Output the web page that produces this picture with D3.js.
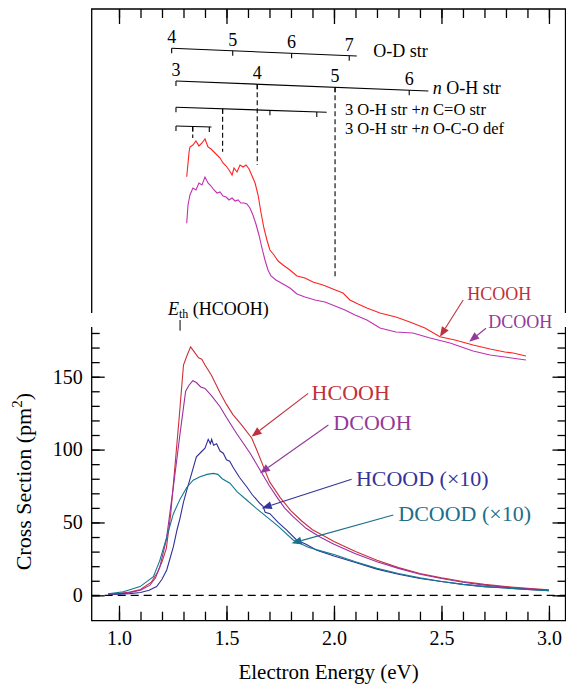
<!DOCTYPE html>
<html>
<head>
<meta charset="utf-8">
<script src="https://cdn.jsdelivr.net/npm/d3@7"></script>
<style>
  body { margin: 0; background: #fff; }
</style>
</head>
<body>
<div id="chart"></div>
<script>
// ---- data: electron energy (eV) vs cross section (pm^2) ----
const hcooh = [[0.95,0.8],[1.0,1.2],[1.05,2.2],[1.1,4],[1.15,9],[1.18,16],[1.2,23],[1.22,32],[1.24,55],[1.26,88],[1.28,122],[1.3,158],[1.315,164],[1.333,170.5],[1.35,167],[1.37,163],[1.385,162],[1.4,158],[1.43,151],[1.47,139],[1.5,131],[1.53,124],[1.57,117],[1.617,108],[1.64,100],[1.67,89],[1.7,78],[1.75,67],[1.8,58],[1.85,51],[1.9,45],[1.95,41],[2.0,37],[2.1,30],[2.2,24],[2.3,19],[2.4,15],[2.5,12],[2.6,9.5],[2.7,7.5],[2.8,6],[2.9,4.8],[3.0,3.8]];
const dcooh = [[0.95,0.8],[1.0,1.2],[1.05,2],[1.1,3.5],[1.144,7],[1.17,12],[1.19,19.6],[1.22,38],[1.253,74.5],[1.284,111],[1.31,140],[1.325,144],[1.343,147.3],[1.36,146],[1.38,143],[1.4,142],[1.43,137],[1.47,129.4],[1.5,122],[1.547,111],[1.58,104],[1.61,97.5],[1.656,86],[1.7,75],[1.733,67.7],[1.77,60],[1.81,54],[1.87,46],[1.935,40],[2.0,35],[2.1,28.5],[2.2,23],[2.3,18.5],[2.4,14.5],[2.5,11.5],[2.6,9],[2.7,7],[2.8,5.6],[2.9,4.5],[3.0,3.5]];
const hcood = [[0.95,0.8],[1.0,0.8],[1.05,1.2],[1.1,2],[1.14,3.5],[1.175,6],[1.2,11],[1.222,17.4],[1.253,33.4],[1.27,45],[1.284,53],[1.3,64],[1.315,72],[1.338,83.7],[1.36,95],[1.38,98],[1.4,101],[1.415,107],[1.425,104],[1.431,107],[1.44,103],[1.454,104],[1.47,99],[1.485,97.5],[1.5,93],[1.515,92],[1.53,88],[1.56,81],[1.594,74.5],[1.62,69],[1.656,63],[1.67,61],[1.68,57],[1.702,56],[1.74,50],[1.78,44.8],[1.826,38],[1.87,35],[1.92,31],[2.0,27],[2.1,22.5],[2.2,18],[2.3,14.5],[2.4,11.5],[2.5,9.5],[2.6,7.5],[2.7,6],[2.8,5],[2.9,4],[3.0,3.2]];
const dcood = [[0.95,1],[1.02,2.5],[1.098,6],[1.16,12.8],[1.19,24],[1.222,40],[1.253,56],[1.284,66],[1.315,74],[1.345,79],[1.377,81.4],[1.41,83],[1.439,83.7],[1.46,83],[1.48,80],[1.516,76.9],[1.55,71],[1.594,65.4],[1.64,59.5],[1.686,54],[1.74,47.5],[1.81,38],[1.88,33],[1.95,30],[2.0,28],[2.1,23],[2.2,18.5],[2.3,15],[2.4,12],[2.5,9.5],[2.6,7.5],[2.7,6],[2.8,5],[2.9,4],[3.0,3.2]];

// high-resolution spectra in the upper panel (arbitrary units)
const hcoohHr = [[1.315,77.3],[1.326,87.2],[1.33,89.2],[1.344,90],[1.358,91.6],[1.372,89.6],[1.386,90.8],[1.4,92.4],[1.414,89.2],[1.428,88.4],[1.442,87.2],[1.456,86],[1.47,84.8],[1.484,82.8],[1.498,81.6],[1.512,80],[1.526,78],[1.535,80.8],[1.549,79.2],[1.563,82],[1.577,81.2],[1.591,82],[1.605,80.4],[1.619,77.6],[1.633,74.8],[1.647,70],[1.66,63.2],[1.674,56.8],[1.688,52],[1.702,48],[1.721,46],[1.74,43.6],[1.763,42],[1.795,40],[1.828,37.6],[1.865,36.8],[1.902,35.2],[1.949,34],[1.995,32.4],[2.042,30.8],[2.074,28],[2.112,26.4],[2.153,24.8],[2.214,22.8],[2.288,21.2],[2.353,19.2],[2.423,16.8],[2.493,13.3],[2.563,12],[2.647,10],[2.726,8.4],[2.795,7.2],[2.833,6.8],[2.893,5.6]];
const dcoohHr = [[1.315,58.7],[1.321,66],[1.33,70],[1.344,72.8],[1.358,72],[1.372,74.8],[1.386,74],[1.4,77.2],[1.414,74.8],[1.428,73.6],[1.442,72],[1.456,70.8],[1.47,71.2],[1.484,69.6],[1.498,69.2],[1.512,68],[1.526,68.8],[1.54,67.6],[1.554,68],[1.567,66.8],[1.581,66.8],[1.595,66.4],[1.609,64.8],[1.623,62],[1.637,58.4],[1.651,54],[1.665,48.8],[1.679,44],[1.693,40],[1.707,37.6],[1.73,36],[1.763,34.4],[1.795,32.8],[1.828,30.4],[1.865,29.2],[1.912,28],[1.958,27.2],[2.005,25.6],[2.051,24],[2.098,22],[2.153,20],[2.214,16.8],[2.288,15.2],[2.367,14.8],[2.447,12.8],[2.54,10.8],[2.647,7.6],[2.726,6],[2.795,5.2],[2.893,4]];

const xTicksMajor = [1.0, 1.5, 2.0, 2.5, 3.0];
const xTicksMinor = d3.range(10, 31).map(d => d / 10);
const yTicksMajor = [0, 50, 100, 150];
const yTicksMinor = d3.range(0, 181, 10);

// vibrational progressions (energies in eV)
const combOD = [1.245, 1.529, 1.803, 2.071];
const combOH = [1.265, 1.643, 2.005, 2.35];
const combCO = [1.265, 1.482, 1.702, 1.92];
const combOCO = [1.265, 1.343, 1.42];

// ---- layout ----
const width = 566, height = 685;
const svg = d3.select("#chart").append("svg")
  .attr("width", width).attr("height", height);
const font = "Liberation Serif, DejaVu Serif, serif";

const x = d3.scaleLinear().domain([0.873, 3.077]).range([91.7, 565.5]);
const yLow = d3.scaleLinear().domain([-17.4, 184.1]).range([620.7, 327]);
const yTop = d3.scaleLinear().domain([0, 144.4]).range([370, 9]);
const topPanelBottom = 313;

const [x0, x1] = x.range();

// frames
svg.append("path")
  .attr("d", `M${x0},${yLow.range()[1]}V${yLow.range()[0]}H${x1}V${yLow.range()[1]}`)
  .attr("fill", "none").attr("stroke", "#000").attr("stroke-width", 1.3);
svg.append("path")
  .attr("d", `M${x0},${topPanelBottom}V${yTop.range()[1]}H${x1}V${topPanelBottom}`)
  .attr("fill", "none").attr("stroke", "#000").attr("stroke-width", 1.3);

function styleAxis(g) {
  g.select(".domain").remove();
  g.attr("font-family", font).attr("font-size", 20);
  g.selectAll("line").attr("stroke-width", 1.3);
}

// bottom axis
svg.append("g").attr("transform", `translate(0,${yLow.range()[0]})`)
  .call(d3.axisBottom(x).tickValues(xTicksMinor).tickSize(-9).tickFormat(""))
  .call(styleAxis);
svg.append("g").attr("transform", `translate(0,${yLow.range()[0]})`)
  .call(d3.axisBottom(x).tickValues(xTicksMajor).tickSize(-15).tickPadding(10).tickFormat(d3.format(".1f")))
  .call(styleAxis);
// top axis of upper panel
svg.append("g").attr("transform", `translate(0,${yTop.range()[1]})`)
  .call(d3.axisTop(x).tickValues(xTicksMinor).tickSize(-9).tickFormat(""))
  .call(styleAxis);
svg.append("g").attr("transform", `translate(0,${yTop.range()[1]})`)
  .call(d3.axisTop(x).tickValues(xTicksMajor).tickSize(-15).tickFormat(""))
  .call(styleAxis);
// left / right axes
svg.append("g").attr("transform", `translate(${x0},0)`)
  .call(d3.axisLeft(yLow).tickValues(yTicksMinor).tickSize(-8).tickFormat(""))
  .call(styleAxis);
svg.append("g").attr("transform", `translate(${x0},0)`)
  .call(d3.axisLeft(yLow).tickValues(yTicksMajor).tickSize(-13).tickPadding(9))
  .call(styleAxis);
svg.append("g").attr("transform", `translate(${x1},0)`)
  .call(d3.axisRight(yLow).tickValues(yTicksMinor).tickSize(-8).tickFormat(""))
  .call(styleAxis);
svg.append("g").attr("transform", `translate(${x1},0)`)
  .call(d3.axisRight(yLow).tickValues(yTicksMajor).tickSize(-13).tickFormat(""))
  .call(styleAxis);

// zero line
svg.append("line")
  .attr("x1", x0).attr("x2", x1).attr("y1", yLow(0)).attr("y2", yLow(0))
  .attr("stroke", "#000").attr("stroke-width", 1.2).attr("stroke-dasharray", "8,5");

// axis titles
svg.append("text")
  .attr("x", (x0 + x1) / 2).attr("y", 679)
  .attr("text-anchor", "middle").attr("font-size", 21).attr("font-family", font)
  .text("Electron Energy (eV)");
const yt = svg.append("text")
  .attr("transform", `translate(31,${yLow(78)}) rotate(-90)`)
  .attr("text-anchor", "middle").attr("font-size", 22).attr("font-family", font);
yt.append("tspan").text("Cross Section (pm");
yt.append("tspan").attr("font-size", 15).attr("dy", -9).text("2");
yt.append("tspan").attr("dy", 9).text(")");

// lower curves
const lineLow = d3.line().x(d => x(d[0])).y(d => yLow(d[1]));
const lowSeries = [
  { data: hcooh, color: "#cc2f3c" },
  { data: dcooh, color: "#9a2fa0" },
  { data: hcood, color: "#2f2f9a" },
  { data: dcood, color: "#12788f" }
];
svg.append("g").selectAll("path").data(lowSeries).join("path")
  .attr("d", d => lineLow(d.data))
  .attr("fill", "none").attr("stroke", d => d.color).attr("stroke-width", 1.1);

// upper curves
const lineTop = d3.line().x(d => x(d[0])).y(d => yTop(d[1]));
const topSeries = [
  { data: hcoohHr, color: "#ff2222" },
  { data: dcoohHr, color: "#c030b0" }
];
svg.append("g").selectAll("path").data(topSeries).join("path")
  .attr("d", d => lineTop(d.data))
  .attr("fill", "none").attr("stroke", d => d.color).attr("stroke-width", 1.1);

// labelled arrows
function arrow(g, fx, fy, tx, ty, color) {
  const ang = Math.atan2(ty - fy, tx - fx), L = 10, W = 4;
  const bx = tx - L * Math.cos(ang), by = ty - L * Math.sin(ang);
  g.append("line").attr("x1", fx).attr("y1", fy).attr("x2", bx).attr("y2", by)
    .attr("stroke", color).attr("stroke-width", 1.1);
  g.append("path")
    .attr("d", `M${tx},${ty}L${bx - W * Math.sin(ang)},${by + W * Math.cos(ang)}L${bx + W * Math.sin(ang)},${by - W * Math.cos(ang)}Z`)
    .attr("fill", color);
}
const lowLabels = [
  { text: "HCOOH", color: "#c0313c", tE: 1.896, tV: 134, fE: 1.88, fV: 138.6, aE: 1.617, aV: 108.9 },
  { text: "DCOOH", color: "#933a98", tE: 1.997, tV: 113.4, fE: 1.974, fV: 116.9, aE: 1.656, aV: 83.7 },
  { text: "HCOOD (\u00d710)", color: "#33339a", tE: 2.102, tV: 75, fE: 2.082, fV: 79.6, aE: 1.664, aV: 59.7 },
  { text: "DCOOD (\u00d710)", color: "#1d6f8c", tE: 2.299, tV: 51, fE: 2.276, fV: 55.1, aE: 1.803, aV: 35.7 }
];
const ann = svg.append("g");
lowLabels.forEach(d => {
  ann.append("text").attr("x", x(d.tE)).attr("y", yLow(d.tV))
    .attr("font-size", 22).attr("font-family", font).attr("fill", d.color).text(d.text);
  arrow(ann, x(d.fE), yLow(d.fV), x(d.aE), yLow(d.aV), d.color);
});
const topLabels = [
  { text: "HCOOH", color: "#c0313c", tE: 2.62, tV: 28, fE: 2.601, fV: 28, aE: 2.493, aV: 13.3 },
  { text: "DCOOH", color: "#933a98", tE: 2.718, tV: 16.8, fE: 2.707, fV: 16.7, aE: 2.629, aV: 11.3 }
];
topLabels.forEach(d => {
  ann.append("text").attr("x", x(d.tE)).attr("y", yTop(d.tV))
    .attr("font-size", 18).attr("font-family", font).attr("fill", d.color).text(d.text);
  arrow(ann, x(d.fE), yTop(d.fV), x(d.aE), yTop(d.aV), d.color);
});

// threshold marker
const eth = svg.append("text").attr("x", 168).attr("y", 315)
  .attr("font-size", 18).attr("font-family", font);
eth.append("tspan").attr("font-style", "italic").text("E");
eth.append("tspan").attr("font-size", 12).attr("dy", 3).text("th");
eth.append("tspan").attr("dy", -3).text(" (HCOOH)");
svg.append("line").attr("x1", x(1.284)).attr("x2", x(1.284))
  .attr("y1", yLow(188.9)).attr("y2", yLow(181.6))
  .attr("stroke", "#000").attr("stroke-width", 1);

// progression combs
const combs = [
  { ticks: combOD, labels: ["4", "5", "6", "7"], endE: 2.106, i0: 128.7, i1: 125.6, dash: [], text: [["", "O-D str"]], tE: 2.183, tI: 125.3, fs: 18 },
  { ticks: combOH, labels: ["3", "4", "5", "6"], endE: 2.439, i0: 115.6, i1: 111.6, dash: [[1, 82], [2, 36.7]], text: [["n", " O-H str"]], tE: 2.46, tI: 110.4, fs: 18 },
  { ticks: combCO, labels: [], endE: 1.966, i0: 105.1, i1: 103.1, dash: [[1, 87.3]], text: [["", "3 O-H str +"], ["n", " C=O str"]], tE: 2.051, tI: 102.2, fs: 16.5 },
  { ticks: combOCO, labels: [], endE: 1.43, i0: 97.6, i1: 97.2, dash: [[1, 92.8]], text: [["", "3 O-H str +"], ["n", " O-C-O def"]], tE: 2.051, tI: 94.4, fs: 16.5 }
];
const cg = svg.append("g").attr("stroke", "#000").attr("stroke-width", 1.1);
combs.forEach(c => {
  const s = d3.scaleLinear().domain([c.ticks[0], c.endE]).range([c.i0, c.i1]);
  cg.append("line").attr("x1", x(c.ticks[0])).attr("x2", x(c.endE))
    .attr("y1", yTop(c.i0)).attr("y2", yTop(c.i1));
  c.ticks.forEach((e, i) => {
    cg.append("line").attr("x1", x(e)).attr("x2", x(e))
      .attr("y1", yTop(s(e))).attr("y2", yTop(s(e)) + 5);
    if (c.labels[i]) {
      svg.append("text").attr("x", x(e)).attr("y", yTop(s(e)) - 5)
        .attr("text-anchor", "middle").attr("font-size", 18).attr("font-family", font)
        .text(c.labels[i]);
    }
  });
  c.dash.forEach(([i, to]) => {
    const e = c.ticks[i];
    cg.append("line").attr("x1", x(e)).attr("x2", x(e))
      .attr("y1", yTop(s(e))).attr("y2", yTop(to))
      .attr("stroke-dasharray", "5,3");
  });
  const t = svg.append("text").attr("x", x(c.tE)).attr("y", yTop(c.tI))
    .attr("font-size", c.fs).attr("font-family", font);
  c.text.forEach(([it, rest]) => {
    if (it) t.append("tspan").attr("font-style", "italic").text(it);
    t.append("tspan").text(rest);
  });
});
</script>
</body>
</html>
